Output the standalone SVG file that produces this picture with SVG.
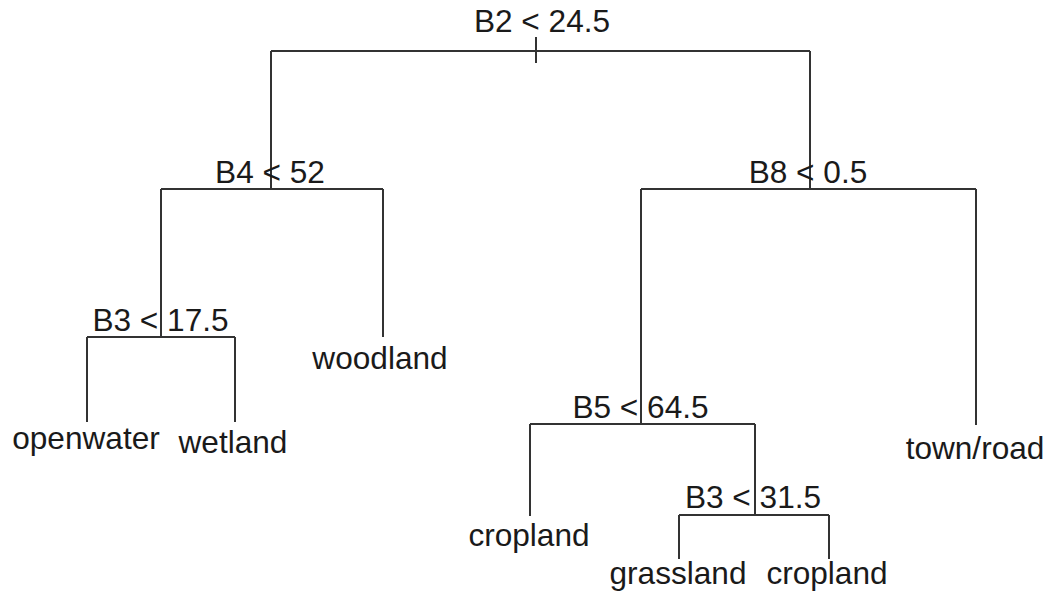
<svg xmlns="http://www.w3.org/2000/svg" width="1048" height="596" viewBox="0 0 1048 596">
  <style>
    .edge { fill: none; stroke: #333333; stroke-width: 2; stroke-linecap: butt; }
    .lbl { font-family: "Liberation Sans", Arial, sans-serif; font-size: 31.6px; fill: #1a1a1a; text-anchor: middle; }
  </style>
  <rect width="1048" height="596" fill="#ffffff"/>

  <!-- tree branches -->
  <g id="connectors">
    <path class="edge" d="M536,37 V63"/>
    <path class="edge" d="M271,51 H810"/>
    <path class="edge" d="M271,51 V189 M810,51 V189"/>
    <path class="edge" d="M161,189 H383 M161,189 V337 M383,189 V337"/>
    <path class="edge" d="M87,337 H235 M87,337 V422 M235,337 V422"/>
    <path class="edge" d="M641,189 H976 M641,189 V424 M976,189 V425"/>
    <path class="edge" d="M530,424 H755 M530,424 V516 M755,424 V515"/>
    <path class="edge" d="M679,515 H829 M679,515 V559 M829,515 V559"/>
  </g>

  <!-- split nodes -->
  <g id="split-b2"><text class="lbl" x="542" y="32">B2 &lt; 24.5</text></g>
  <g id="split-b4"><text class="lbl" x="270" y="183">B4 &lt; 52</text></g>
  <g id="split-b8"><text class="lbl" x="808" y="183">B8 &lt; 0.5</text></g>
  <g id="split-b3-left"><text class="lbl" x="160.5" y="331">B3 &lt; 17.5</text></g>
  <g id="split-b5"><text class="lbl" x="640.5" y="418">B5 &lt; 64.5</text></g>
  <g id="split-b3-right"><text class="lbl" x="753" y="508">B3 &lt; 31.5</text></g>

  <!-- leaves -->
  <g id="leaf-openwater"><text class="lbl" x="86" y="449">openwater</text></g>
  <g id="leaf-wetland"><text class="lbl" x="233" y="453">wetland</text></g>
  <g id="leaf-woodland"><text class="lbl" x="380" y="369">woodland</text></g>
  <g id="leaf-townroad"><text class="lbl" x="975" y="459">town/road</text></g>
  <g id="leaf-cropland-1"><text class="lbl" x="529" y="546">cropland</text></g>
  <g id="leaf-grassland"><text class="lbl" x="678" y="584">grassland</text></g>
  <g id="leaf-cropland-2"><text class="lbl" x="827" y="584">cropland</text></g>
</svg>
